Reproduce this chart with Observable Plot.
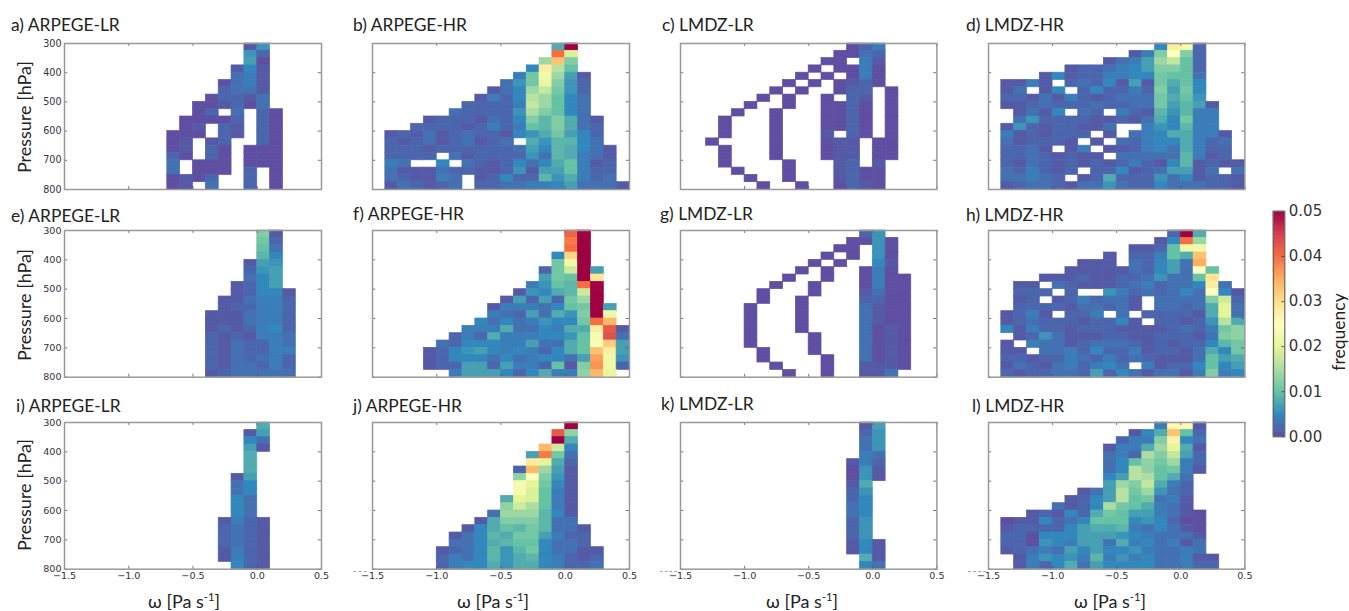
<!DOCTYPE html>
<html>
<head>
<meta charset="utf-8">
<script src="https://cdn.jsdelivr.net/npm/d3@7"></script>
<script src="https://cdn.jsdelivr.net/npm/@observablehq/plot@0.6"></script>
<style>
html,body{margin:0;padding:0;background:#fff;overflow:hidden}
#chart{position:relative;width:1349px;height:611px;overflow:hidden}
.lab{position:absolute;white-space:nowrap;font-family:Lato,"Open Sans",sans-serif;color:#222}
.lab sup{font-size:.62em;line-height:0}
.dash{position:absolute;height:0;border-top:1px dashed #aaa}
</style>
</head>
<body>
<div id="chart"></div>
<script>
// Each cell is a letter of this alphabet: its index is the frequency in thousandths. "." = no data.
const levels = "0123456789abcdefghijklmnopqrstuvwxyzABCDEFGHIJKLMNO";
const a = ["..............16....","..............62....","..............70....",".............151....",".............341....","............0341....","............2331....","...........02213....","..........001203....","..........02.3.20...",".........00002.20...",".........01.21.20...","........000.21.20...","........01.12..20...","........01.20.000...","........20.20.000...","........3.000.000...","........3.000.2.0...","........0102..2.0...","........01.3..2.0..."];
const b = ["..............8O....","..............Ej....",".............exc....","............5sga....","...........4bme71...","..........36blc62...",".........135ehb62...","........1425gea53...",".......22224hea53...","......322226fca53...","....12221325c9c831..","...222212424a9c832..",".1213123221568b752..",".2123123123.869953..",".222122222237598531.",".2222.3122226398431.",".43..5.32125358a412.",".31113221126177a422.",".321143.12522968423.",".132123.223344573331"];
const c = [".............024....","............0032....","...........00.41....","..........0.0040....",".........0.0.040....","........0.0.0120....",".......0.0..022.0...","......0.0..0.21.0...",".....0..0..0020.0...","....0..0...0020.0...","...0...0...0020.0...","...0...0...0020.0...","...0...0...1.20.0...","..0....0...011.00...","...0...0...011.00...","...0...0...011.00...","...0....0...12.1....","....0...0...1200....",".....0..0...1200....","......0..0..0210...."];
const d = [".............5sn2...","...........14cpc2...",".........1347eha2...","......1223457cca2...","....151224455baa3...",".1141.2325171b8a5...",".13.15.252242c7b5...",".221314212333b8a6...",".112322232233b7971..","..1315.32.42196944..","..3622221121385b44..",".162122113..465944..",".4121222.1.34588441.",".312221.1.324558423.",".2231.14.1124538422.",".22321211.333339412.",".2132121212421591211",".324212.2251237713.3",".33432.1282226351221",".1233213363225333221"];
const e = ["...............c1...","...............b2...","...............a3...","...............95...","..............176...","..............267...","..............357...",".............1257...",".............12551..","............113442..","............122442..","...........1113442..","...........1113442..","...........1212452..","...........2121443..","...........2132243..","...........2132244..","...........2132342..","...........2133242..","...........1233333.."];
const f = ["...............FO...","...............DO...","...............EO...","..............5vO...","..............bmO...",".............2biO7..",".............7baOt..","............46a9EO..","...........16589iO..","..........17272beO..",".........144435abO7.",".........4327386cOm.","........53534655bEy.",".......4448335488sG1","......2428444556anH3",".....32555447338aow7","....125675454258axs7","....1255535345537Am6","....1227727442a1cBm2","......4777525844dyl."];
const g = ["..............26....",".............0060...","............00.60...","...........0.0.60...","..........0.0..51...",".........0.0..040...","........0..0..0400..",".......0..0...0400..","......0...0...1300..","......0..0....2200..",".....0...0....3100..",".....0...0....3100..",".....0...0....3100..",".....0...0....3010..",".....0....0...3010..",".....0....0...3010..","......0...0...3010..","......0....0..3010..",".......0...0..1110..","........0..0..113..."];
const h = ["..............2O8...",".............15Ee...","...........112amm...",".........1.224a8x...",".......111.32573z...","......1111132573pa..","....111211223633at..","..11.321112342335s3.","..222.2..64232353p51","..12.1242331.3333ci2","..2222133231.33238k3",".1241.224.3.222218k3",".12322212251.22126g8",".51422122211112324bd","..1263111221122213cd",".1.4331233321212259b",".11.334252241221385b",".2212243242321113a78",".1321342453.41225a57",".2122332725313314c45"];
const i = ["...............8....","..............17....","..............53....","..............71....","..............8.....","..............8.....","..............8.....",".............17.....",".............35.....",".............35.....",".............53.....",".............53.....",".............53.....","............1421....","............2321....","............2321....","............2321....","............1421....","............1421....",".............521...."];
const j = ["...............O....","..............Gd....","..............O8....",".............yi5....","............7Db3....","............sk82....","...........2ye71....","...........dpc61....","...........nkb51....","...........nja41....","..........8kja41....","..........difa41....",".........3eee951....","........18ccc933....",".......158a9b9331...","......13598bb7422...","......33589aa5332...",".....1235969b53311..",".....2435968954212..",".....2455868854223.."];
const k = ["..............17....","..............26....","..............36....","..............36....","..............43....",".............142....",".............061....",".............061....",".............18.....",".............26.....",".............25.....",".............35.....",".............35.....",".............26.....",".............26.....",".............26.....",".............151....",".............151....","..............81....","..............53...."];
const l = [".............4qq1...","...........158xa2...","..........244cr53...",".........1448ek81...",".........342fch72...",".........35adbe42...",".........35gdab41...",".........57gfa83....",".........7ech842....",".......137gbe632....","......1257gab341....",".....3125fba8431....","...121528ba774310...",".0115235aaa565200...",".1222257889435310...",".2205557776543331...",".2206547738453413...",".1234375755643343...","..1465649464533411..","..1425837555533422.."];

const panels = [a,b,c,d,e,f,g,h,i,j,k,l];
const titles = ["a) ARPEGE-LR","b) ARPEGE-HR","c) LMDZ-LR","d) LMDZ-HR","e) ARPEGE-LR","f) ARPEGE-HR","g) LMDZ-LR","h) LMDZ-HR","i) ARPEGE-LR","j) ARPEGE-HR","k) LMDZ-LR","l) LMDZ-HR"];
const titleX = [11,353,662,966,11,353,660,966,16,353,661,972];
const titleY = [24,24,24,24,215,213,213,214,405,405,403,405];

const omegaEdges = [-1.5,0.5], pressureEdges = [300,800];
const omegaStep = 0.1, pressureStep = 25;
const omegaTicks = [-1.5,-1.0,-0.5,0.0,0.5];
const pressureTicks = [300,400,500,600,700,800];
const freqTicks = [0,0.01,0.02,0.03,0.04,0.05];
const colorStops = [0,0.005,0.01,0.015,0.02,0.025,0.03,0.035,0.04,0.045,0.05];
const colorHex = ["#5e4fa2","#3288bd","#66c2a5","#abdda4","#e6f598","#ffffbf","#fee08b","#fdae61","#f46d43","#d53e4f","#9e0142"];
const colorScale = {type:"linear",domain:colorStops,range:colorHex};

const colLeft = [[64.3,321.3],[372.3,629.3],[680.3,936.7],[988.3,1244.7]];
const rowTop = [[42.7,188.7],[230,376.7],[422.3,569]];
const frameColor = "#999";
const root = document.getElementById("chart");

function cells(rows){
  const out=[];
  rows.forEach((s,r)=>[...s].forEach((ch,q)=>{
    if(ch===".")return;
    out.push({x1:omegaEdges[0]+q*omegaStep,x2:omegaEdges[0]+(q+1)*omegaStep,
              y1:pressureEdges[0]+r*pressureStep,y2:pressureEdges[0]+(r+1)*pressureStep,
              v:levels.indexOf(ch)/1000});
  }));
  return out;
}
function label(html,x,y,size,extra){
  const el=document.createElement("div");
  el.className="lab";el.innerHTML=html;
  el.style.left=x+"px";el.style.top=y+"px";el.style.fontSize=size+"px";
  el.style.transform=extra||"translateY(-50%)";
  root.appendChild(el);
}
panels.forEach((rows,n)=>{
  const col=n%4,row=Math.floor(n/4);
  const [x1,x2]=colLeft[col],[y1,y2]=rowTop[row];
  const mL=30,mR=8,mT=6,mB=20;
  const marks=[
    Plot.rect(cells(rows),{x1:"x1",x2:"x2",y1:"y1",y2:"y2",fill:"v",stroke:"v",strokeWidth:0.7}),
    Plot.ruleX(omegaTicks,{x:t=>t,y1:pressureEdges[0],y2:pressureEdges[0]+10,stroke:"#555",strokeWidth:0.8}),
    Plot.ruleX(omegaTicks,{x:t=>t,y1:pressureEdges[1]-10,y2:pressureEdges[1],stroke:"#555",strokeWidth:0.8}),
    Plot.ruleY(pressureTicks,{y:t=>t,x1:omegaEdges[0],x2:omegaEdges[0]+0.025,stroke:"#555",strokeWidth:0.8}),
    Plot.ruleY(pressureTicks,{y:t=>t,x1:omegaEdges[1]-0.025,x2:omegaEdges[1],stroke:"#555",strokeWidth:0.8}),
    Plot.frame({stroke:frameColor,strokeWidth:1.5})
  ];
  if(col===0) marks.push(Plot.axisY(pressureTicks,{anchor:"left",tickSize:0,tickPadding:3,label:null,color:"#333"}));
  if(row===2) marks.push(Plot.axisX(omegaTicks,{anchor:"bottom",tickSize:0,tickPadding:3,label:null,color:"#333",tickFormat:t=>t.toFixed(1).replace("-","\u2212")}));
  const p=Plot.plot({
    width:x2-x1+mL+mR,height:y2-y1+mT+mB,
    marginLeft:mL,marginRight:mR,marginTop:mT,marginBottom:mB,
    x:{domain:omegaEdges,axis:null},
    y:{domain:[pressureEdges[1],pressureEdges[0]],axis:null},
    color:colorScale,
    style:{position:"absolute",left:(x1-mL)+"px",top:(y1-mT)+"px",background:"transparent",fontFamily:"'DejaVu Sans'",fontSize:"9.6px",overflow:"visible"},
    marks
  });
  root.appendChild(p);
  label(titles[n],titleX[n],titleY[n],17.4);
});

// y axis titles and x axis titles
[117,305,495].forEach(y=>label("Pressure [hPa]",24,y,18,"translate(-50%,-50%) rotate(-90deg)"));
[184,493,802,1110].forEach(x=>label("\u03c9 [Pa s<sup>-1</sup>]",x,601,18,"translate(-50%,-50%)"));

// clipped remnants left of the lower x axes
[[353,14],[660,17],[968,18]].forEach(([x,w])=>{
  const el=document.createElement("div");el.className="dash";
  el.style.left=x+"px";el.style.top="571px";el.style.width=w+"px";root.appendChild(el);
});

// colour bar
const barLevels=d3.range(0,0.05,0.0005);
const bar=Plot.plot({
  width:11.3+5+46,height:225.3+12,marginLeft:5,marginRight:46,marginTop:6,marginBottom:6,
  x:{domain:[0,1],axis:null},
  y:{domain:[0,0.05],axis:null},
  color:colorScale,
  style:{position:"absolute",left:"1267.7px",top:"204.7px",background:"transparent",fontFamily:"'DejaVu Sans'",fontSize:"15px",overflow:"visible"},
  marks:[
    Plot.rect(barLevels,{x1:0,x2:1,y1:t=>t,y2:t=>t+0.0005,fill:t=>t+0.00025,stroke:t=>t+0.00025,strokeWidth:0.7}),
    Plot.ruleY(freqTicks,{y:t=>t,x1:0.75,x2:1,stroke:"#333",strokeWidth:0.8}),
    Plot.frame({stroke:"#666",strokeWidth:1.2}),
    Plot.axisY(freqTicks,{anchor:"right",tickSize:0,tickPadding:4,label:null,color:"#333",tickFormat:t=>t.toFixed(2)})
  ]
});
root.appendChild(bar);
label("frequency",1338,332,17.5,"translate(-50%,-50%) rotate(-90deg)");
</script>
</body>
</html>
